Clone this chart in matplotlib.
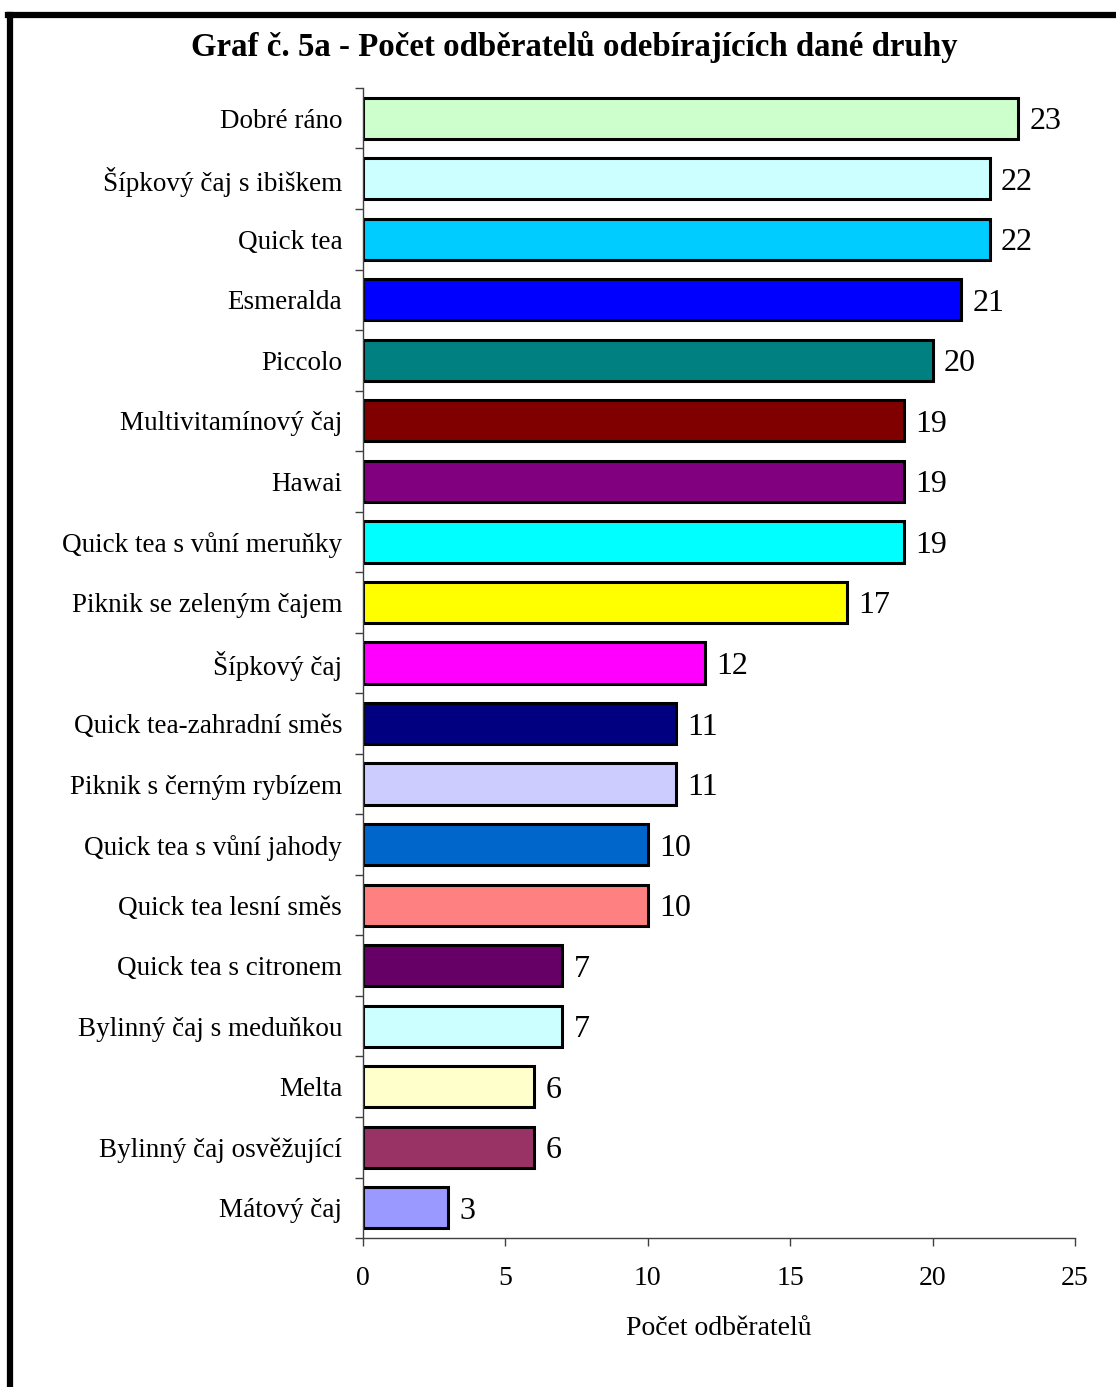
import matplotlib.pyplot as plt
from matplotlib.lines import Line2D

# data
categories = [
    "Dobré ráno", "Šípkový čaj s ibiškem", "Quick tea", "Esmeralda", "Piccolo",
    "Multivitamínový čaj", "Hawai", "Quick tea s vůní meruňky",
    "Piknik se zeleným čajem", "Šípkový čaj", "Quick tea-zahradní směs",
    "Piknik s černým rybízem", "Quick tea s vůní jahody", "Quick tea lesní směs",
    "Quick tea s citronem", "Bylinný čaj s meduňkou", "Melta",
    "Bylinný čaj osvěžující", "Mátový čaj",
]
values = [23, 22, 22, 21, 20, 19, 19, 19, 17, 12, 11, 11, 10, 10, 7, 7, 6, 6, 3]
colors = [
    "#CCFFCC", "#CCFFFF", "#00CCFF", "#0000FF", "#008080", "#800000", "#800080",
    "#00FFFF", "#FFFF00", "#FF00FF", "#000080", "#CCCCFF", "#0066CC", "#FF8080",
    "#660066", "#CCFFFF", "#FFFFCC", "#993366", "#9999FF",
]
xticks = [0, 5, 10, 15, 20, 25]

plt.rcParams["font.family"] = ["Liberation Serif", "DejaVu Serif"]

fig = plt.figure(figsize=(11.16, 13.87), dpi=100)
ax = fig.add_axes([0.3253, 0.1074, 0.638, 0.8292])

pos = list(range(len(categories)))
ax.barh(pos, values, height=0.68, color=colors, edgecolor="black", linewidth=2.2)

for p, v in zip(pos, values):
    ax.text(v + 0.4, p, str(v), va="center_baseline", ha="left", fontsize=23)

ax.set_xlim(0, 25)
ax.set_ylim(len(categories) - 0.5, -0.5)
ax.set_xticks(xticks)
ax.set_xticklabels([str(t) for t in xticks], fontsize=20)
ax.tick_params(axis="x", direction="out", length=6, width=1, color="#404040", pad=14)

# category ticks between bars, labels in the middle
ax.set_yticks([p - 0.5 for p in pos] + [len(categories) - 0.5])
ax.set_yticklabels([])
ax.set_yticks(pos, minor=True)
ax.set_yticklabels(categories, minor=True, fontsize=19.5)
ax.tick_params(axis="y", which="major", direction="out", length=6, width=1, color="#404040")
ax.tick_params(axis="y", which="minor", length=0, pad=15)

for s in ["top", "right"]:
    ax.spines[s].set_visible(False)
for s in ["left", "bottom"]:
    ax.spines[s].set_color("#404040")
    ax.spines[s].set_linewidth(1)

ax.set_xlabel("Počet odběratelů", fontsize=20, labelpad=18)

fig.text(0.515, 0.966, "Graf č. 5a - Počet odběratelů odebírajících dané druhy",
         ha="center", va="center", fontsize=23.7, fontweight="bold")

# outer frame (left and top edges)
fig.add_artist(Line2D([0.0090, 0.0090], [0, 0.9892], transform=fig.transFigure,
                      color="black", linewidth=4.5))
fig.add_artist(Line2D([0.0070, 1.0], [0.9892, 0.9892], transform=fig.transFigure,
                      color="black", linewidth=4.5))

fig.savefig("out.png", dpi=100)
